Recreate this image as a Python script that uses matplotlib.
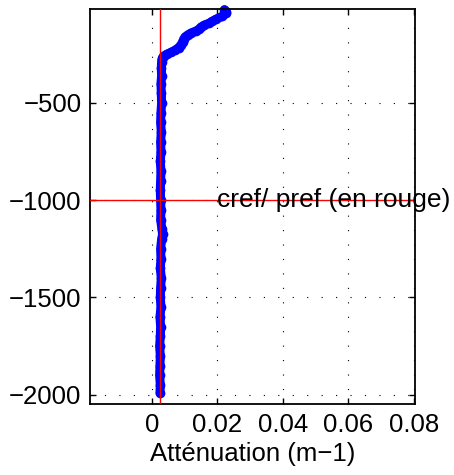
import matplotlib
matplotlib.use("Agg")
import matplotlib.pyplot as plt

# profile values (depth in m, attenuation in m-1)
depth = [-20, -30, -40, -55, -70, -80, -90, -100, -110, -120, -130, -140,
         -150, -160, -170, -185, -200, -215, -230, -240, -250, -258, -265,
         -275, -290, -320, -360, -400, -450, -500, -550, -600, -650, -700,
         -750, -800, -850, -900, -950, -1000, -1050, -1100, -1150, -1175,
         -1200, -1250, -1300, -1350, -1400, -1450, -1500, -1550, -1600,
         -1650, -1700, -1750, -1800, -1850, -1900, -1950, -1990]
atten = [0.0222, 0.0228, 0.0226, 0.0215, 0.0195, 0.0185, 0.0175, 0.0160,
         0.0150, 0.0145, 0.0135, 0.0120, 0.0110, 0.0102, 0.0098, 0.0094,
         0.0090, 0.0082, 0.0070, 0.0058, 0.0045, 0.0037, 0.0033, 0.0031,
         0.0030, 0.0029, 0.0030, 0.0028, 0.0029, 0.0030, 0.0028, 0.0027,
         0.0029, 0.0027, 0.0028, 0.0026, 0.0028, 0.0027, 0.0026, 0.0027,
         0.0028, 0.0027, 0.0031, 0.0033, 0.0030, 0.0027, 0.0028, 0.0026,
         0.0029, 0.0027, 0.0026, 0.0028, 0.0025, 0.0027, 0.0026, 0.0024,
         0.0026, 0.0025, 0.0024, 0.0026, 0.0025]

cref = 0.0024
pref = -1000
xticks = [0, 0.02, 0.04, 0.06, 0.08]
xticklabels = ["0", "0.02", "0.04", "0.06", "0.08"]
yticks = [-2000, -1500, -1000, -500]

plt.rcParams["font.family"] = ["Liberation Sans", "DejaVu Sans"]

fig = plt.figure(figsize=(4.54, 4.75), dpi=100)
ax = fig.add_axes([0.198, 0.149, 0.717, 0.832])

ax.plot(atten, depth, color="#0000ff", linewidth=6.5, marker="o",
        markersize=7, markeredgewidth=0, solid_capstyle="round",
        solid_joinstyle="round", clip_on=False, zorder=2)
ax.axvline(cref, color="#ff0000", linewidth=1, zorder=3)
ax.axhline(pref, color="#ff0000", linewidth=1, zorder=3)
ax.text(0.02, pref, "cref/ pref (en rouge)", fontsize=19, va="center",
        ha="left", clip_on=False, zorder=4)

ax.set_xlim(-0.0189, 0.0805)
ax.set_ylim(-2049, -17)
ax.set_xticks(xticks)
ax.set_xticklabels(xticklabels)
ax.set_yticks(yticks)
ax.tick_params(direction="in", labelsize=18.5, length=4, top=True, right=True,
               width=1, pad=6)
ax.grid(True, color="black", linestyle=(0, (1, 12)), linewidth=0.8)
for s in ax.spines.values():
    s.set_linewidth(1.3)
ax.set_xlabel("Atténuation (m\u22121)", fontsize=18.5, labelpad=4)

fig.savefig("out.png", dpi=100)
